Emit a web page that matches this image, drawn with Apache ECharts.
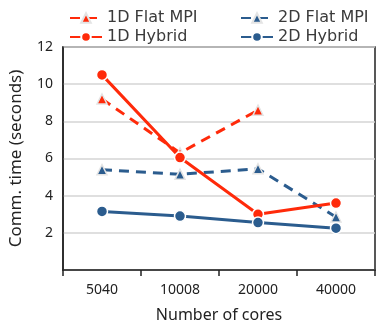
<!DOCTYPE html>
<html>
<head>
<meta charset="utf-8">
<script src="https://cdn.jsdelivr.net/npm/echarts@6/dist/echarts.min.js"></script>
<style>
  html, body { margin: 0; padding: 0; background: #fff; }
  #chart { width: 390px; height: 328px; }
</style>
</head>
<body>
<div id="chart"></div>
<script>
// 数据
const cores = ['5040', '10008', '20000', '40000']
const flat1D = [9.2, 6.3, 8.6, null]
const hybrid1D = [10.5, 6.05, 3.0, 3.6]
const flat2D = [5.4, 5.15, 5.45, 2.85]
const hybrid2D = [3.15, 2.9, 2.55, 2.25]
const yTicks = [2, 4, 6, 8, 10, 12]

const red = '#ff2a0a'
const blue = '#2b5c8e'

const chart = echarts.init(document.getElementById('chart'))

const mkSeries = (name, data, color, dashed, symbol) => ({
  name: name,
  type: 'line',
  data: data,
  symbol: symbol,
  symbolSize: symbol === 'triangle' ? 10 : 11,
  connectNulls: false,
  lineStyle: { color: color, width: 3, type: dashed ? [10, 7] : 'solid' },
  itemStyle: { color: color, borderColor: symbol === 'triangle' ? '#e4e4e4' : '#fff', borderWidth: 1.5 },
  emphasis: { disabled: true }
})

const legendText = { fontFamily: 'DejaVu Sans', fontSize: 16, color: '#3a3a3a' }

const option = {
  animation: false,
  legend: [
    {
      left: 64, top: 5, orient: 'vertical', itemWidth: 32, itemHeight: 12, itemGap: 3,
      textStyle: legendText,
      data: ['1D Flat MPI', '1D Hybrid']
    },
    {
      left: 235, top: 5, orient: 'vertical', itemWidth: 32, itemHeight: 12, itemGap: 3,
      textStyle: legendText,
      data: ['2D Flat MPI', '2D Hybrid']
    }
  ],
  grid: {
    left: 63, right: 15, top: 47, bottom: 57,
    show: true, borderColor: '#222', borderWidth: 1.5
  },
  xAxis: {
    type: 'category',
    data: cores,
    boundaryGap: true,
    name: 'Number of cores',
    nameLocation: 'middle',
    nameGap: 37,
    nameTextStyle: { fontFamily: 'Noto Sans', fontSize: 16, color: '#222' },
    axisLine: { lineStyle: { color: '#222', width: 1.5 } },
    axisTick: { show: true, length: 6, lineStyle: { color: '#222', width: 1.5 } },
    axisLabel: { margin: 13, fontFamily: 'Noto Sans', fontSize: 14, color: '#222' }
  },
  yAxis: {
    type: 'value',
    min: 0, max: 12, interval: 2,
    name: 'Comm. time (seconds)',
    nameLocation: 'middle',
    nameGap: 38,
    nameTextStyle: { fontFamily: 'Noto Sans', fontSize: 17, color: '#222' },
    axisLine: { show: true, lineStyle: { color: '#222', width: 1.5 } },
    axisTick: { show: false },
    axisLabel: {
      margin: 10, fontFamily: 'Noto Sans', fontSize: 14, color: '#222',
      formatter: v => (yTicks.indexOf(v) >= 0 ? String(v) : '')
    },
    splitLine: { lineStyle: { color: '#d4d4d4', width: 1.5 } }
  },
  series: [
    mkSeries('1D Flat MPI', flat1D, red, true, 'triangle'),
    mkSeries('2D Flat MPI', flat2D, blue, true, 'triangle'),
    mkSeries('1D Hybrid', hybrid1D, red, false, 'circle'),
    mkSeries('2D Hybrid', hybrid2D, blue, false, 'circle')
  ]
}

chart.setOption(option)
</script>
</body>
</html>
